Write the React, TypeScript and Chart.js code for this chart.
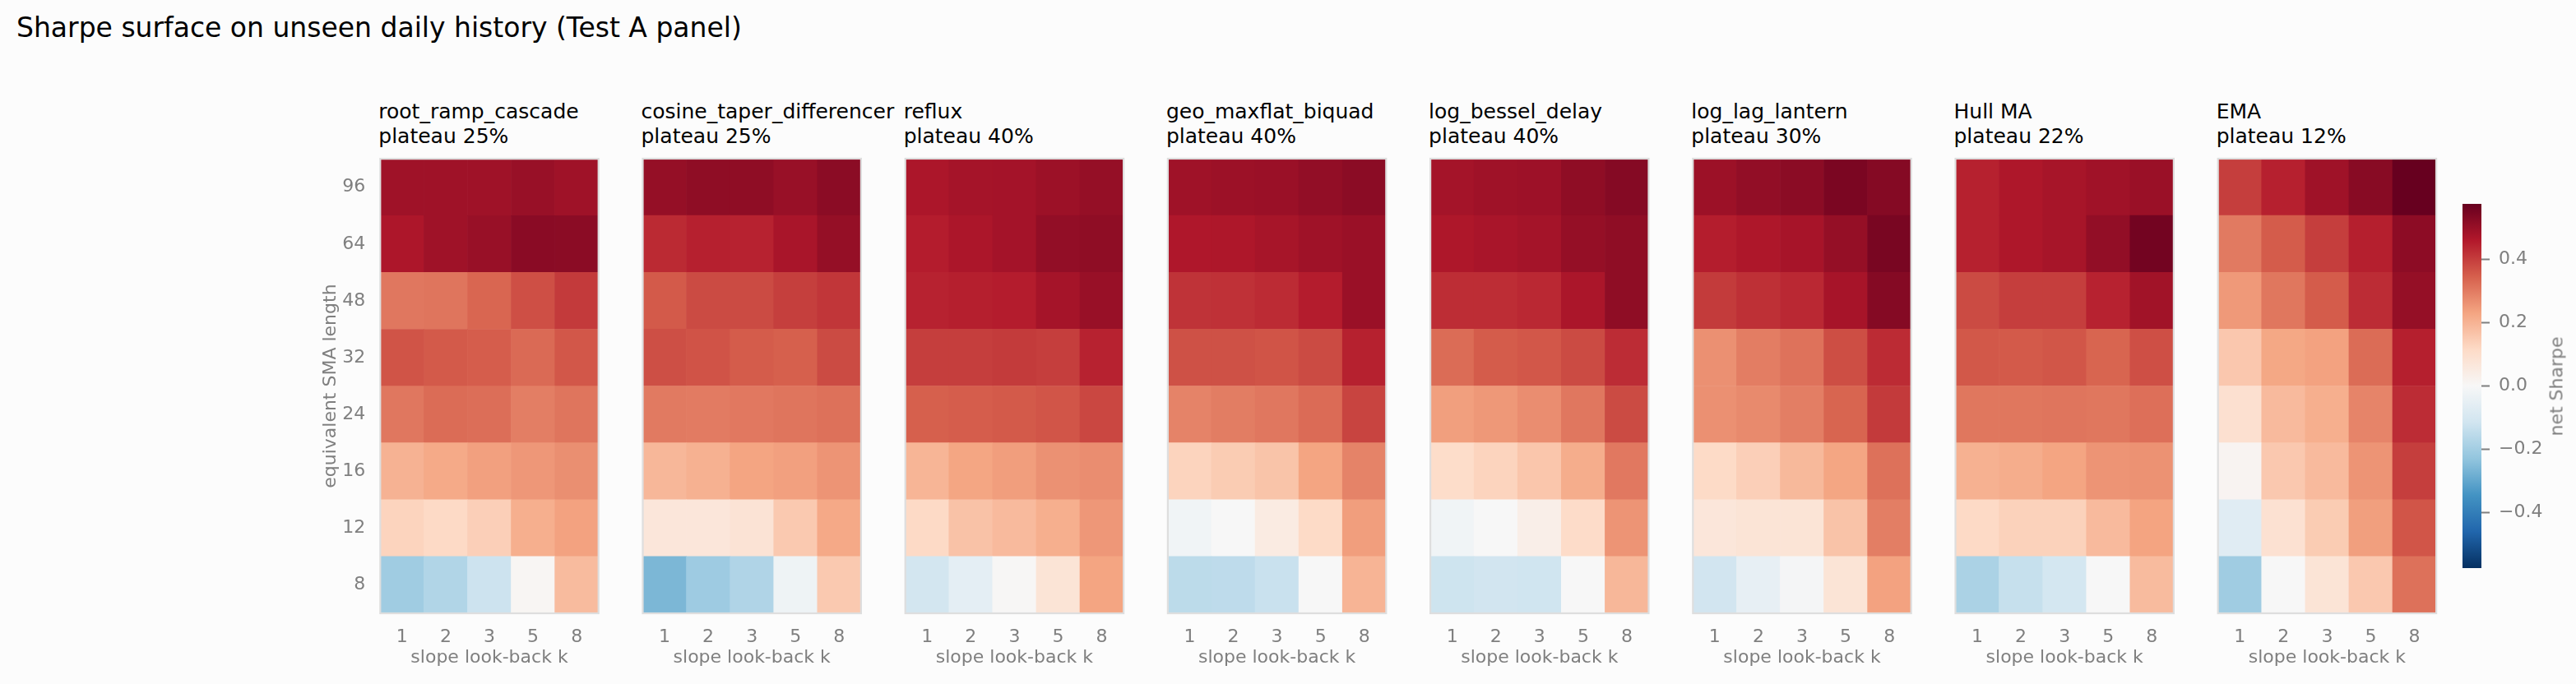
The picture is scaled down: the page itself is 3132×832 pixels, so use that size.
import React, { useEffect, useRef } from "react";
import { Chart, registerables } from "chart.js";

Chart.register(...registerables);

const FONT = "'DejaVu Sans', 'Noto Sans', sans-serif";
const GREY = "#7f7f7f";
Chart.defaults.font.family = FONT;

// axes
const slopeLookbacks = ["1", "2", "3", "5", "8"];
const smaLengths = ["8", "12", "16", "24", "32", "48", "64", "96"];

// net Sharpe, one row per SMA length (bottom row = 8, top row = 96), columns = k
const rootRampCascade = [
  [-0.205, -0.173, -0.122, 0.01, 0.183],
  [0.13, 0.117, 0.14, 0.21, 0.235],
  [0.202, 0.22, 0.238, 0.253, 0.267],
  [0.307, 0.326, 0.322, 0.295, 0.31],
  [0.365, 0.355, 0.35, 0.329, 0.36],
  [0.307, 0.31, 0.336, 0.372, 0.407],
  [0.469, 0.49, 0.5, 0.522, 0.52],
  [0.49, 0.49, 0.49, 0.5, 0.49],
];
const cosineTaperDifferencer = [
  [-0.263, -0.208, -0.175, -0.027, 0.153],
  [0.07, 0.07, 0.082, 0.153, 0.222],
  [0.192, 0.205, 0.23, 0.238, 0.258],
  [0.302, 0.3, 0.305, 0.31, 0.318],
  [0.373, 0.366, 0.352, 0.346, 0.38],
  [0.355, 0.38, 0.38, 0.399, 0.413],
  [0.432, 0.448, 0.445, 0.475, 0.505],
  [0.505, 0.515, 0.515, 0.5, 0.52],
];
const reflux = [
  [-0.11, -0.057, 0.005, 0.08, 0.23],
  [0.117, 0.168, 0.185, 0.21, 0.253],
  [0.197, 0.228, 0.242, 0.264, 0.27],
  [0.346, 0.35, 0.355, 0.363, 0.385],
  [0.4, 0.4, 0.405, 0.4, 0.445],
  [0.445, 0.45, 0.455, 0.48, 0.5],
  [0.455, 0.47, 0.483, 0.51, 0.515],
  [0.47, 0.48, 0.483, 0.495, 0.505],
];
const geoMaxflatBiquad = [
  [-0.153, -0.15, -0.13, 0.0, 0.198],
  [-0.02, 0.0, 0.05, 0.115, 0.242],
  [0.13, 0.148, 0.165, 0.23, 0.287],
  [0.287, 0.298, 0.307, 0.327, 0.39],
  [0.37, 0.37, 0.365, 0.38, 0.447],
  [0.418, 0.42, 0.43, 0.455, 0.497],
  [0.465, 0.467, 0.477, 0.49, 0.497],
  [0.49, 0.495, 0.497, 0.51, 0.52],
];
const logBesselDelay = [
  [-0.12, -0.113, -0.117, 0.0, 0.192],
  [-0.02, 0.0, 0.035, 0.11, 0.258],
  [0.108, 0.13, 0.16, 0.214, 0.305],
  [0.24, 0.252, 0.27, 0.307, 0.38],
  [0.326, 0.352, 0.36, 0.38, 0.428],
  [0.427, 0.427, 0.435, 0.472, 0.515],
  [0.467, 0.475, 0.482, 0.505, 0.515],
  [0.482, 0.49, 0.493, 0.515, 0.53],
];
const logLagLantern = [
  [-0.113, -0.05, -0.01, 0.08, 0.235],
  [0.07, 0.08, 0.08, 0.167, 0.295],
  [0.115, 0.14, 0.188, 0.228, 0.318],
  [0.266, 0.275, 0.295, 0.338, 0.407],
  [0.266, 0.297, 0.315, 0.375, 0.43],
  [0.405, 0.423, 0.435, 0.478, 0.53],
  [0.453, 0.467, 0.478, 0.505, 0.548],
  [0.495, 0.51, 0.52, 0.545, 0.53],
];
const hullMa = [
  [-0.185, -0.135, -0.105, 0.0, 0.183],
  [0.117, 0.135, 0.135, 0.185, 0.232],
  [0.205, 0.214, 0.23, 0.258, 0.262],
  [0.308, 0.308, 0.31, 0.308, 0.32],
  [0.358, 0.355, 0.362, 0.338, 0.372],
  [0.38, 0.4, 0.4, 0.445, 0.487],
  [0.447, 0.467, 0.477, 0.51, 0.558],
  [0.447, 0.467, 0.477, 0.488, 0.497],
];
const ema = [
  [-0.205, 0.0, 0.08, 0.155, 0.318],
  [-0.07, 0.09, 0.148, 0.24, 0.363],
  [0.015, 0.155, 0.185, 0.258, 0.4],
  [0.094, 0.185, 0.21, 0.285, 0.428],
  [0.157, 0.225, 0.235, 0.326, 0.45],
  [0.25, 0.308, 0.352, 0.428, 0.505],
  [0.302, 0.352, 0.4, 0.45, 0.518],
  [0.4, 0.448, 0.49, 0.525, 0.576],
];

const panelNames = [
  "root_ramp_cascade",
  "cosine_taper_differencer",
  "reflux",
  "geo_maxflat_biquad",
  "log_bessel_delay",
  "log_lag_lantern",
  "Hull MA",
  "EMA",
];
const plateauPct = [25, 25, 40, 40, 40, 30, 22, 12];
const panelSurfaces = [
  rootRampCascade,
  cosineTaperDifferencer,
  reflux,
  geoMaxflatBiquad,
  logBesselDelay,
  logLagLantern,
  hullMa,
  ema,
];

const colorbarTicks = [-0.4, -0.2, 0, 0.2, 0.4];
const SHARPE_LIM = 0.576;

// RdBu reversed
const RDBU_R = [
  "#053061", "#2166ac", "#4393c3", "#92c5de", "#d1e5f0", "#f7f7f7",
  "#fddbc7", "#f4a582", "#d6604d", "#b2182b", "#67001f",
];

function hexRgb(h: string) {
  const n = parseInt(h.slice(1), 16);
  return [(n >> 16) & 255, (n >> 8) & 255, n & 255];
}

function sharpeColor(v: number) {
  let t = (v + SHARPE_LIM) / (2 * SHARPE_LIM);
  t = Math.max(0, Math.min(1, t));
  const pos = t * (RDBU_R.length - 1);
  const i = Math.min(RDBU_R.length - 2, Math.floor(pos));
  const f = pos - i;
  const a = hexRgb(RDBU_R[i]);
  const b = hexRgb(RDBU_R[i + 1]);
  const c = a.map((x, j) => Math.round(x + (b[j] - x) * f));
  return `rgb(${c[0]},${c[1]},${c[2]})`;
}

// layout (page pixels)
const PANEL_LEFT0 = 462.3;
const PANEL_STEP = 319.2;
const PANEL_W = 265.4;
const CANVAS_TOP = 170;
const PAGE_H = 832;

const heatFrame = {
  id: "heatFrame",
  afterDatasetsDraw(chart: any) {
    const { ctx, chartArea: a } = chart;
    ctx.save();
    ctx.strokeStyle = "#dedede";
    ctx.lineWidth = 2.2;
    ctx.strokeRect(a.left, a.top, a.right - a.left, a.bottom - a.top);
    ctx.restore();
  },
};

function SurfacePanel({ index }: { index: number }) {
  const canvasRef = useRef<HTMLCanvasElement | null>(null);
  const px = PANEL_LEFT0 + index * PANEL_STEP;
  const cl = Math.floor(px - 100);
  const cw = Math.ceil(px + PANEL_W + 15) - cl;
  const ch = PAGE_H - CANVAS_TOP;
  const first = index === 0;

  useEffect(() => {
    if (!canvasRef.current) return;
    const surface = panelSurfaces[index];
    const datasets = surface.map((row, r) => ({
      label: smaLengths[r],
      data: row.map(() => [r, r + 1]),
      backgroundColor: row.map(sharpeColor),
      borderWidth: 0,
      grouped: false,
      barPercentage: 1,
      categoryPercentage: 1,
    }));
    const chart = new Chart(canvasRef.current, {
      type: "bar",
      data: { labels: slopeLookbacks, datasets: datasets as any },
      options: {
        animation: false,
        responsive: false,
        layout: {
          padding: {
            top: 23,
            bottom: 0,
            left: px - 100 - cl,
            right: cl + cw - (px + PANEL_W),
          },
        },
        plugins: { legend: { display: false }, tooltip: { enabled: false } },
        scales: {
          x: {
            type: "category",
            grid: { display: false },
            border: { display: false },
            ticks: { color: GREY, font: { size: 22 }, padding: 8, maxRotation: 0 },
            title: {
              display: true,
              text: "slope look-back k",
              color: GREY,
              font: { size: 22 },
              padding: { top: 0, bottom: 19 },
            },
            afterFit: (s: any) => {
              s.height = 86;
            },
          },
          y: {
            type: "linear",
            min: 0,
            max: smaLengths.length,
            grid: { display: false },
            border: { display: false },
            afterBuildTicks: (s: any) => {
              s.ticks = smaLengths.map((_, i) => ({ value: i + 0.5 }));
            },
            ticks: {
              display: first,
              color: GREY,
              font: { size: 22 },
              padding: 10,
              autoSkip: false,
              callback: (_v: any, i: number) => smaLengths[i],
            },
            title: {
              display: first,
              text: "equivalent SMA length",
              color: GREY,
              font: { size: 22 },
              padding: { top: 26.5, bottom: 0 },
            },
            afterFit: (s: any) => {
              s.width = 100;
            },
          },
        },
      },
      plugins: [heatFrame],
    });
    return () => chart.destroy();
  }, [index]);

  return (
    <>
      <div
        style={{
          position: "absolute",
          left: px - 2,
          top: 121.3,
          font: `25px ${FONT}`,
          lineHeight: "30px",
          color: "#000",
          whiteSpace: "pre",
        }}
      >
        {panelNames[index]}
        {"\n"}
        {`plateau ${plateauPct[index]}%`}
      </div>
      <canvas
        ref={canvasRef}
        width={cw}
        height={ch}
        style={{ position: "absolute", left: cl, top: CANVAS_TOP, width: cw, height: ch }}
      />
    </>
  );
}

function SharpeColorbar() {
  const canvasRef = useRef<HTMLCanvasElement | null>(null);
  const left = 2994;
  const top = 218;
  const w = 23 + 80;
  const h = 443 + 60;

  useEffect(() => {
    if (!canvasRef.current) return;
    const chart = new Chart(canvasRef.current, {
      type: "bar",
      data: {
        labels: ["net Sharpe"],
        datasets: [
          {
            data: [[-SHARPE_LIM, SHARPE_LIM]] as any,
            backgroundColor: (c: any) => {
              const { ctx, chartArea, scales } = c.chart;
              if (!chartArea) return RDBU_R[5];
              const y = scales.y;
              const g = ctx.createLinearGradient(
                0,
                y.getPixelForValue(-SHARPE_LIM),
                0,
                y.getPixelForValue(SHARPE_LIM)
              );
              RDBU_R.forEach((col, i) => g.addColorStop(i / (RDBU_R.length - 1), col));
              return g;
            },
            borderWidth: 0,
            barPercentage: 1,
            categoryPercentage: 1,
          },
        ],
      },
      options: {
        animation: false,
        responsive: false,
        layout: { padding: { top: 30, bottom: 30, left: 0, right: 0 } },
        plugins: { legend: { display: false }, tooltip: { enabled: false } },
        scales: {
          x: { display: false },
          y: {
            position: "right",
            min: -SHARPE_LIM,
            max: SHARPE_LIM,
            afterBuildTicks: (s: any) => {
              s.ticks = colorbarTicks.map((v) => ({ value: v }));
            },
            grid: {
              display: true,
              drawOnChartArea: false,
              drawTicks: true,
              tickLength: 10,
              tickWidth: 2,
              tickColor: GREY,
            },
            border: { display: false },
            ticks: {
              color: GREY,
              font: { size: 22 },
              padding: 11,
              callback: (v: any) => {
                const n = Number(v);
                return (n < -1e-9 ? "\u2212" : "") + Math.abs(n).toFixed(1);
              },
            },
            afterFit: (s: any) => {
              s.width = 80;
            },
          },
        },
      },
    });
    return () => chart.destroy();
  }, []);

  return (
    <canvas
      ref={canvasRef}
      width={w}
      height={h}
      style={{ position: "absolute", left, top, width: w, height: h }}
    />
  );
}

export default function App() {
  return (
    <div
      style={{
        position: "fixed",
        left: 0,
        top: 0,
        width: 3132,
        height: PAGE_H,
        background: "#fcfcfc",
        overflow: "hidden",
      }}
    >
      <div
        style={{
          position: "absolute",
          left: 20,
          top: 13.6,
          font: `33px ${FONT}`,
          lineHeight: "40px",
          color: "#000",
          whiteSpace: "nowrap",
        }}
      >
        Sharpe surface on unseen daily history (Test A panel)
      </div>
      {panelNames.map((_, i) => (
        <SurfacePanel key={i} index={i} />
      ))}
      <SharpeColorbar />
      <div
        style={{
          position: "absolute",
          left: 3108,
          top: 469.5,
          transform: "translate(-50%, -50%) rotate(-90deg)",
          font: `22px ${FONT}`,
          color: GREY,
          whiteSpace: "nowrap",
        }}
      >
        net Sharpe
      </div>
    </div>
  );
}
